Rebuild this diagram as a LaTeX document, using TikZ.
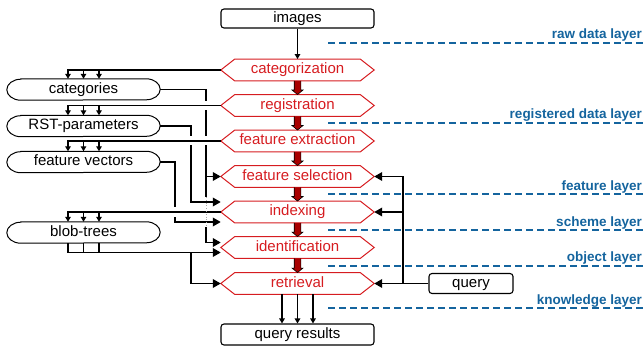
\documentclass[tikz,border=0pt]{standalone}
\usepackage{fontspec}
\setmainfont{Liberation Sans}
\usetikzlibrary{arrows.meta}

\definecolor{hexred}{RGB}{214,28,32}
\definecolor{blockred}{RGB}{168,0,0}
\definecolor{layerblue}{RGB}{20,100,158}

\tikzset{
  txt/.style={font=\fontsize{15}{18}\selectfont, text height=10.5pt, text depth=3pt, inner sep=0pt},
  box/.style={txt, draw=black, line width=1.1pt, rounded corners=3pt},
  hexlabel/.style={txt, minimum width=153pt, minimum height=21.5pt, text=hexred},
  hexline/.style={draw=hexred, line width=1pt},
  caplabel/.style={txt, minimum width=153pt, minimum height=21pt},
  capline/.style={draw=black, line width=1pt},
  conn/.style={draw=black, line width=1.9pt},
  bigtip/.style={-{Triangle[length=8pt,width=8.5pt]}},
  smalltip/.style={-{Triangle[length=5pt,width=5.5pt]}},
  halo/.style={draw=white, line width=9pt},
  gapline/.style={draw=black!35, line width=0.8pt, dotted},
  blockarrow/.style={fill=blockred, draw=black, line width=0.6pt},
  layerline/.style={draw=layerblue, line width=2pt, dash pattern=on 7pt off 4pt},
  layerlabel/.style={text=layerblue, font=\fontsize{13.5}{16}\selectfont\bfseries, inner sep=0pt, anchor=base east},
}

% processing step: red hexagon around a label
\newcommand\hexstep[4]{%
  \node[hexlabel] (#1) at (#2,#3) {#4};
  \draw[hexline] (#1.west) -- ([xshift=14pt]#1.north west) -- ([xshift=-14pt]#1.north east)
    -- (#1.east) -- ([xshift=-14pt]#1.south east) -- ([xshift=14pt]#1.south west) -- cycle;}

% data store: capsule with elliptic ends
\newcommand\capsulenode[4]{%
  \node[caplabel] (#1) at (#2,#3) {#4};
  \draw[capline] ([xshift=14pt]#1.north west) -- ([xshift=-14pt]#1.north east)
    arc[start angle=90, end angle=-90, x radius=14pt, y radius=10.5pt]
    -- ([xshift=14pt]#1.south west)
    arc[start angle=270, end angle=90, x radius=14pt, y radius=10.5pt] -- cycle;}

% thick red block arrow from one step to the next
\newcommand\blockarr[2]{%
  \filldraw[blockarrow] ([xshift=-3.3pt]#1.south) -- ([xshift=-3.3pt,yshift=4.5pt]#2.north)
    -- ([xshift=-5.5pt,yshift=4.5pt]#2.north) -- (#2.north)
    -- ([xshift=5.5pt,yshift=4.5pt]#2.north) -- ([xshift=3.3pt,yshift=4.5pt]#2.north)
    -- ([xshift=3.3pt]#1.south);}

\begin{document}
\begin{tikzpicture}[x=1pt, y=-1pt]
\useasboundingbox (0,0) rectangle (644,347);

% ---------- layers ----------
\foreach \yy/\name/\lab in {43/l1/raw data layer, 122.7/l2/registered data layer,
    194/l3/feature layer, 230/l4/scheme layer, 265.7/l5/object layer, 308/l6/knowledge layer}{
  \coordinate (\name a) at (328,\yy);
  \coordinate (\name b) at (644,\yy);
  \draw[layerline] (\name a) -- (\name b);
  \node[layerlabel] (\name t) at ([xshift=-2pt,yshift=4pt]\name b) {\lab};
}

% ---------- boxes ----------
\node[box, minimum width=153pt, minimum height=19pt] (images) at (297.5,18.5) {images};
\node[box, minimum width=153pt, minimum height=21pt] (results) at (297.5,334.5) {query results};
\node[box, minimum width=84pt, minimum height=20pt] (query) at (471,283.5) {query};

% ---------- processing steps ----------
\hexstep{categ}{297.5}{70}{categorization}
\hexstep{regis}{297.5}{105.5}{registration}
\hexstep{fext}{297.5}{141}{feature extraction}
\hexstep{fsel}{297.5}{176.5}{feature selection}
\hexstep{idx}{297.5}{212}{indexing}
\hexstep{ident}{297.5}{247.5}{identification}
\hexstep{ret}{297.5}{283.5}{retrieval}

\blockarr{categ}{regis}
\blockarr{regis}{fext}
\blockarr{fext}{fsel}
\blockarr{fsel}{idx}
\blockarr{idx}{ident}
\blockarr{ident}{ret}

% ---------- data stores ----------
\capsulenode{cats}{83.5}{89.5}{categories}
\capsulenode{rst}{83.5}{126}{RST-parameters}
\capsulenode{fvec}{83.5}{162}{feature vectors}
\capsulenode{blobs}{83.5}{232.5}{blob-trees}

% ---------- trunk positions ----------
\coordinate (trunkA) at (206,0);
\coordinate (trunkB) at (191,0);
\coordinate (trunkC) at (175,0);
\coordinate (trunkQ) at (403,0);
\coordinate (idxHi) at ([yshift=10pt]idx.west);
\coordinate (idxLo) at ([yshift=-10pt]idx.west);
\coordinate (identHi) at ([yshift=5pt]ident.west);
\coordinate (identLo) at ([yshift=-5pt]ident.west);
\coordinate (dotTop) at ([yshift=15pt]idx.center);
\coordinate (dotBot) at ([yshift=-15pt]idx.center);

% images into the pipeline
\draw[conn, smalltip] (images.south) -- (categ.north);

% stores feeding later steps
\draw[conn, bigtip] (cats.east) -| (trunkA |- fsel.west) -- (fsel.west);
\draw[conn] (trunkA |- fsel.west) -- (trunkA |- dotTop);
\draw[conn, bigtip] (trunkA |- dotBot) |- (identHi);
\draw[conn, bigtip] (rst.east) -| (trunkB |- idxHi) -- (idxHi);
\draw[conn, bigtip] (fvec.east) -| (trunkC |- idxLo) -- (idxLo);

% blob-trees into identification and retrieval
\draw[conn, bigtip] ([xshift=-15.5pt]blobs.south) |- (identLo);
\draw[conn] (blobs.south) -- (blobs.south |- identLo);
\draw[conn] ([xshift=15.5pt]blobs.south) -- ([xshift=15.5pt]blobs.south |- identLo);
\draw[conn, bigtip] (trunkB |- identLo) |- (ret.west);

% steps writing into stores (crossing gaps first)
\draw[halo] (regis.west) -- (regis.west -| cats.east);
\draw[halo] (fext.west) -- (fext.west -| cats.east);
\draw[halo] (idx.west) -- (idx.west -| cats.east);

\foreach \src/\dst in {categ/cats, regis/rst, fext/fvec, idx/blobs}{
  \draw[conn, smalltip] (\src.west) -| ([xshift=-15.5pt]\dst.north);
  \draw[conn, smalltip] (\dst.north |- \src.west) -- (\dst.north);
  \draw[conn, smalltip] ([xshift=15.5pt]\dst.north |- \src.west) -- ([xshift=15.5pt]\dst.north);
}

% crowded crossing on the categories trunk
\draw[gapline] (trunkA |- dotTop) -- (trunkA |- dotBot);

% query feedback
\draw[conn, bigtip] (query.west) -| (trunkQ |- fsel.east) -- (fsel.east);
\draw[conn, bigtip] (trunkQ |- idx.east) -- (idx.east);
\draw[conn, bigtip] (trunkQ |- ret.east) -- (ret.east);

% retrieval output
\draw[conn, smalltip] ([xshift=-15.5pt]ret.south) -- ([xshift=-15.5pt]results.north);
\draw[conn, smalltip] (ret.south) -- (results.north);
\draw[conn, smalltip] ([xshift=15.5pt]ret.south) -- ([xshift=15.5pt]results.north);

\end{tikzpicture}
\end{document}
